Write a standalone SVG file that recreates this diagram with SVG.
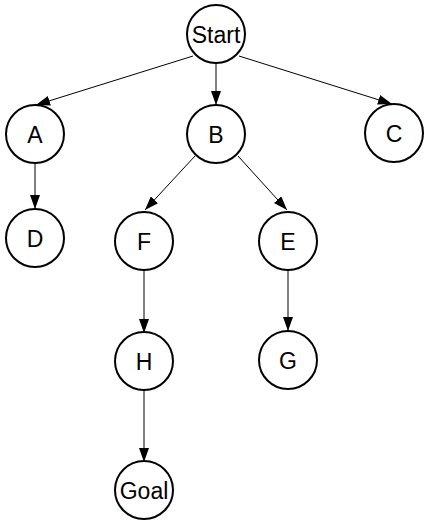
<svg xmlns="http://www.w3.org/2000/svg" width="430" height="529" viewBox="0 0 430 529">
<defs>
<style>
.n circle{fill:#fff;stroke:#000;stroke-width:2}
.n text{font-family:"Liberation Sans",Arial,sans-serif;font-size:23px;fill:#000;text-anchor:middle;dominant-baseline:central}
.e line{stroke:#000;stroke-width:1;marker-end:url(#ah)}
</style>
<marker id="ah" markerUnits="userSpaceOnUse" markerWidth="14" markerHeight="10" refX="14" refY="5" orient="auto">
<path d="M0,0 L14,5 L0,10 z" fill="#000"/>
</marker>
</defs>
<rect width="430" height="529" fill="#fff"/>
<g id="connectors" class="e">
<line x1="193" y1="56" x2="36" y2="105"/>
<line x1="216" y1="63" x2="216" y2="105"/>
<line x1="239" y1="56" x2="392" y2="104"/>
<line x1="35" y1="164" x2="35" y2="209"/>
<line x1="195" y1="156" x2="145" y2="210"/>
<line x1="238" y1="156" x2="287" y2="210"/>
<line x1="144" y1="270" x2="144" y2="333"/>
<line x1="288" y1="270" x2="288" y2="331"/>
<line x1="144" y1="391" x2="144" y2="462"/>
</g>
<g id="node-start" class="n"><circle cx="216" cy="34" r="29"/><text x="216" y="35">Start</text></g>
<g id="node-a" class="n"><circle cx="35" cy="134" r="29"/><text x="35" y="135">A</text></g>
<g id="node-b" class="n"><circle cx="216" cy="134" r="29"/><text x="216" y="135">B</text></g>
<g id="node-c" class="n"><circle cx="394" cy="133" r="29"/><text x="394" y="134">C</text></g>
<g id="node-d" class="n"><circle cx="35" cy="238" r="29"/><text x="35" y="239">D</text></g>
<g id="node-f" class="n"><circle cx="144" cy="241" r="29"/><text x="144" y="242">F</text></g>
<g id="node-e" class="n"><circle cx="288" cy="241" r="29"/><text x="288" y="242">E</text></g>
<g id="node-h" class="n"><circle cx="144" cy="361" r="29"/><text x="144" y="362">H</text></g>
<g id="node-g" class="n"><circle cx="288" cy="360" r="29"/><text x="288" y="361">G</text></g>
<g id="node-goal" class="n"><circle cx="144" cy="490" r="29"/><text x="144" y="491">Goal</text></g>
</svg>
